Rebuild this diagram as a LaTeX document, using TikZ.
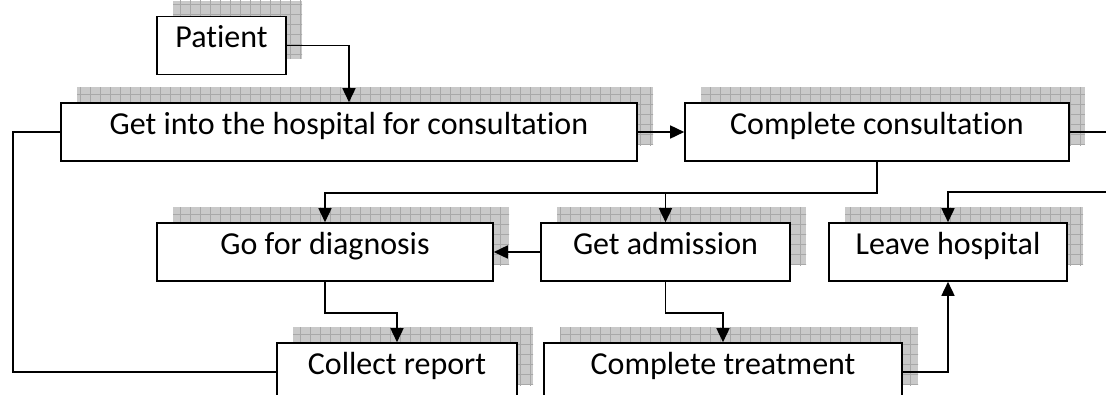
\documentclass[tikz,border=0pt]{standalone}
\usepackage{fontspec}
\setmainfont{Carlito}[Ligatures=NoCommon]
\usetikzlibrary{arrows.meta,patterns.meta}

\begin{document}
\begin{tikzpicture}[x=1pt, y=-1pt, line width=1.6pt,
	stepbox/.style={draw, fill=white, inner sep=0pt, minimum height=58pt,
		font=\fontsize{32}{36}\selectfont, text height=0.8em, text depth=0.35em,
		preaction={draw=none, fill=gray!42, transform canvas={shift={(16pt,16pt)}}},
		preaction={draw=none, pattern={Lines[distance=10pt,angle=0,line width=0.9pt]},
			pattern color=gray!68, transform canvas={shift={(16pt,16pt)}}},
		preaction={draw=none, pattern={Lines[distance=10pt,angle=90,line width=0.9pt]},
			pattern color=gray!68, transform canvas={shift={(16pt,16pt)}}}},
	flow/.style={-{Triangle[width=13pt,length=14pt]}}]

	\useasboundingbox (0,0) rectangle (1106,394);
	\clip (0,0) rectangle (1106,394);

	% boxes
	\node[stepbox, minimum width=129pt] (patient) at (221.5,45.5) {Patient};
	\node[stepbox, minimum width=576pt] (hosp) at (349,132) {Get into the hospital for consultation};
	\node[stepbox, minimum width=384pt] (consult) at (877,132) {Complete consultation};
	\node[stepbox, minimum width=336pt] (diag) at (325,252) {Go for diagnosis};
	\node[stepbox, minimum width=249pt] (admit) at (665.5,252) {Get admission};
	\node[stepbox, minimum width=238pt] (leave) at (948,252) {Leave hospital};
	\node[stepbox, minimum width=240pt] (report) at (397,372) {Collect report};
	\node[stepbox, minimum width=358pt] (treat) at (723,372) {Complete treatment};

	\coordinate (back) at (13,132);

	% connectors
	\draw[flow] (patient.east) -| (hosp.north);
	\draw[flow] (hosp.east) -- (consult.west);
	\draw[flow] (consult.south) -- ++(0,31) -| (diag.north);
	\draw[flow] (consult.south) -- ++(0,31) -| (admit.north);
	\draw[flow] (consult.east) -- ++(61,0) -- ++(0,60) -| (leave.north);
	\draw[flow] (admit.west) -- (diag.east);
	\draw[flow] (diag.south) -- ++(0,31) -| (report.north);
	\draw[flow] (admit.south) -- ++(0,31) -| (treat.north);
	\draw[flow] (treat.east) -| (leave.south);
	\draw (report.west) -| (back) -- (hosp.west);

\end{tikzpicture}
\end{document}
